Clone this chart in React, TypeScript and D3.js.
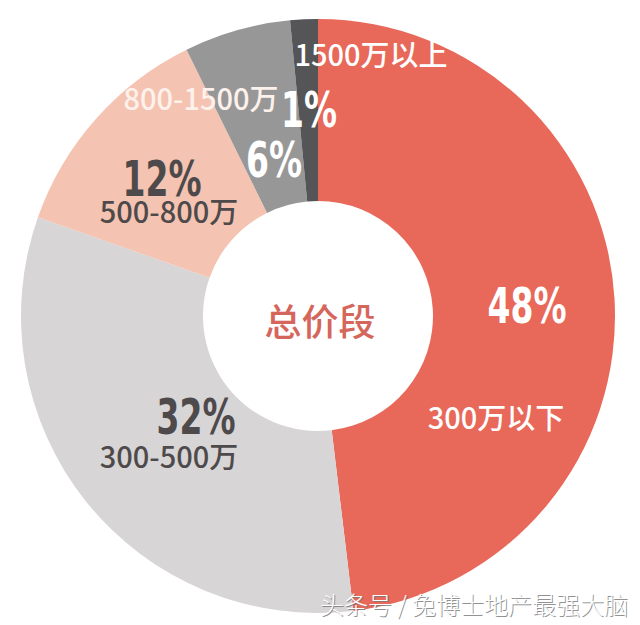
import React from "react";
import * as d3 from "d3";

const categories = ["300万以下", "300-500万", "500-800万", "800-1500万", "1500万以上"];
const values = [48.1, 32.3, 12.3, 5.8, 1.5];
const percentLabels = ["48%", "32%", "12%", "6%", "1%"];
const colors = ["#E8685A", "#D8D5D6", "#F5C3B1", "#989798", "#555456"];
const centerTitle = "总价段";
const watermark = "头条号 / 兔博士地产最强大脑";

const W = 640;
const H = 625;
const CX = 318;
const CY = 316;
const R_OUT = 297;
const R_IN = 115;

// label layout (x, y baseline) per slice
const pctLayout = [
  { x: 527, y: 323, fill: "#FFFFFF" },
  { x: 196, y: 434, fill: "#4E4A4B" },
  { x: 162, y: 196, fill: "#4E4A4B" },
  { x: 274, y: 177, fill: "#FFFFFF" },
  { x: 309, y: 127, fill: "#FFFFFF" },
];
const catLayout = [
  { x: 496, y: 429, fill: "#FFFFFF" },
  { x: 169, y: 468, fill: "#4E4A4B" },
  { x: 169, y: 223, fill: "#4E4A4B" },
  { x: 201, y: 110, fill: "#FDF1EC" },
  { x: 371, y: 66, fill: "#FFFFFF" },
];

export default function App() {
  const pie = d3.pie<number>().sort(null).value((d) => d);
  const arcs = pie(values);
  const arc = d3.arc<d3.PieArcDatum<number>>().innerRadius(R_IN).outerRadius(R_OUT);

  const catFont = '"Noto Sans CJK SC", "Noto Sans", sans-serif';
  const pctFont = '"DejaVu Sans", sans-serif';

  return (
    <svg
      width={W}
      height={H}
      viewBox={`0 0 ${W} ${H}`}
      style={{ position: "absolute", left: 0, top: 0, background: "#fff" }}
    >
      <rect width={W} height={H} fill="#fff" />
      <g transform={`translate(${CX},${CY})`}>
        {arcs.map((a, i) => (
          <path key={categories[i]} d={arc(a) || ""} fill={colors[i]} />
        ))}
      </g>
      {categories.map((c, i) => (
        <text
          key={"c" + i}
          x={catLayout[i].x}
          y={catLayout[i].y}
          textAnchor="middle"
          fontFamily={catFont}
          fontWeight={500}
          fontSize={29}
          fill={catLayout[i].fill}
        >
          {c}
        </text>
      ))}
      {percentLabels.map((p, i) => (
        <g key={"p" + i} transform={`translate(${pctLayout[i].x},${pctLayout[i].y}) scale(0.66,1)`}>
          <text
            x={0}
            y={0}
            textAnchor="middle"
            fontFamily={pctFont}
            fontWeight={700}
            fontSize={50}
            fill={pctLayout[i].fill}
          >
            {p}
          </text>
        </g>
      ))}
      <text
        x={CX + 2}
        y={CY + 4}
        textAnchor="middle"
        dominantBaseline="central"
        fontFamily={catFont}
        fontWeight={500}
        fontSize={37}
        fill="#D5665B"
      >
        {centerTitle}
      </text>
      <text
        x={321}
        y={615}
        fontFamily={catFont}
        fontWeight={300}
        fontSize={24}
        fill="#777"
        opacity={0.8}
      >
        {watermark}
      </text>
      <text
        x={320}
        y={614}
        fontFamily={catFont}
        fontWeight={300}
        fontSize={24}
        fill="#FFFFFF"
      >
        {watermark}
      </text>
    </svg>
  );
}
